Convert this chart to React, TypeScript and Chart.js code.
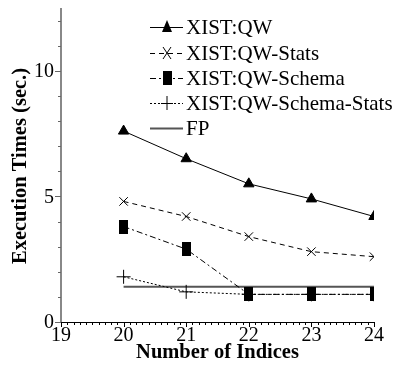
import React, { useEffect, useRef } from "react";
import { Chart, registerables } from "chart.js";
Chart.register(...registerables);

const xValues = [20, 21, 22, 23, 24];
const qw = [7.6, 6.5, 5.5, 4.9, 4.2];
const qwStats = [4.8, 4.2, 3.4, 2.8, 2.6];
const qwSchema = [3.8, 2.9, 1.1, 1.1, 1.1];
const qwSchemaStats = [1.8, 1.2, 1.1, 1.1, 1.1];
const fp = [1.4, 1.4, 1.4, 1.4, 1.4];
const seriesNames = ["XIST:QW", "XIST:QW-Stats", "XIST:QW-Schema", "XIST:QW-Schema-Stats", "FP"];
const xTicks = [19, 20, 21, 22, 23, 24];
const yTicks = [0, 5, 10];

const SERIF = "'Liberation Serif', 'DejaVu Serif', serif";

function makeRectImage(): HTMLCanvasElement {
  const c = document.createElement("canvas");
  c.width = 9;
  c.height = 14;
  const g = c.getContext("2d")!;
  g.fillStyle = "#000";
  g.fillRect(0, 0, 9, 14);
  return c;
}

export default function App() {
  const ref = useRef<HTMLCanvasElement>(null);
  useEffect(() => {
    const rectImg = makeRectImage();
    const styles = [
      { dash: [] as number[], point: "triangle" as any, radius: 6, color: "#000", width: 1 },
      { dash: [5, 4], point: "crossRot" as any, radius: 6, color: "#000", width: 1 },
      { dash: [6, 3, 2, 3], point: rectImg as any, radius: 6, color: "#000", width: 1 },
      { dash: [2, 2], point: "cross" as any, radius: 7, color: "#000", width: 1 },
      { dash: [] as number[], point: false as any, radius: 0, color: "#555", width: 2 },
    ];
    const values = [qw, qwStats, qwSchema, qwSchemaStats, fp];
    const datasets = values.map((arr, i) => ({
      label: seriesNames[i],
      data: arr.map((v, j) => ({ x: xValues[j], y: v })),
      borderColor: styles[i].color,
      backgroundColor: "#000",
      borderWidth: styles[i].width,
      borderDash: styles[i].dash,
      pointStyle: styles[i].point,
      pointRadius: styles[i].radius,
      pointBorderWidth: 1,
      pointBorderColor: "#000",
      pointBackgroundColor: "#000",
      tension: 0,
      fill: false,
    }));

    const decor = {
      id: "decor",
      afterDraw(chart: any) {
        const ctx = chart.ctx;
        const xs = chart.scales.x;
        const ys = chart.scales.y;
        const area = chart.chartArea;
        ctx.save();
        // axes lines
        ctx.strokeStyle = "#888";
        ctx.lineWidth = 2;
        ctx.beginPath();
        ctx.moveTo(area.left, area.top);
        ctx.lineTo(area.left, area.bottom);
        ctx.stroke();
        ctx.strokeStyle = "#000";
        ctx.lineWidth = 1;
        ctx.beginPath();
        ctx.moveTo(area.left, area.bottom + 0.5);
        ctx.lineTo(area.right, area.bottom + 0.5);
        ctx.stroke();
        // x minor ticks
        for (let k = 0; k <= 50; k++) {
          const v = 19 + k * 0.1;
          const px = Math.round(xs.getPixelForValue(v)) + 0.5;
          const len = k % 10 === 0 ? 5 : 3;
          ctx.beginPath();
          ctx.moveTo(px, area.bottom);
          ctx.lineTo(px, area.bottom + len);
          ctx.stroke();
        }
        // y minor ticks
        ctx.strokeStyle = "#666";
        for (let v = 0; v <= 12; v++) {
          const py = Math.round(ys.getPixelForValue(v)) + 0.5;
          const len = v % 5 === 0 ? 6 : 3;
          ctx.beginPath();
          ctx.moveTo(area.left - len, py);
          ctx.lineTo(area.left, py);
          ctx.stroke();
        }
        // tick labels
        ctx.fillStyle = "#000";
        ctx.font = `20px ${SERIF}`;
        ctx.textAlign = "center";
        ctx.textBaseline = "middle";
        xTicks.forEach((t) => ctx.fillText(String(t), xs.getPixelForValue(t), 336));
        ctx.textAlign = "right";
        yTicks.forEach((t) => ctx.fillText(String(t), area.left - 7, ys.getPixelForValue(t) + 1));
        // titles
        ctx.font = `bold 20.5px ${SERIF}`;
        ctx.textAlign = "center";
        ctx.textBaseline = "middle";
        ctx.fillText("Number of Indices", (area.left + area.right) / 2, 353);
        ctx.save();
        ctx.translate(21, 166);
        ctx.rotate(-Math.PI / 2);
        ctx.fillText("Execution Times (sec.)", 0, 0);
        ctx.restore();
        // legend
        const rows = [27, 53, 78, 103, 128];
        ctx.font = `21px ${SERIF}`;
        ctx.textAlign = "left";
        rows.forEach((ry, i) => {
          const st = styles[i];
          ctx.strokeStyle = st.color;
          ctx.lineWidth = st.width;
          ctx.setLineDash(st.dash);
          ctx.beginPath();
          ctx.moveTo(150, ry + 0.5);
          ctx.lineTo(183, ry + 0.5);
          ctx.stroke();
          ctx.setLineDash([]);
          ctx.lineWidth = 1;
          ctx.strokeStyle = "#000";
          ctx.fillStyle = "#000";
          const cx = 167;
          if (i === 0) {
            ctx.beginPath();
            ctx.moveTo(cx, ry - 7);
            ctx.lineTo(cx + 5, ry + 5);
            ctx.lineTo(cx - 5, ry + 5);
            ctx.closePath();
            ctx.fill();
          } else if (i === 1) {
            ctx.beginPath();
            ctx.moveTo(cx - 4, ry - 6);
            ctx.lineTo(cx + 4, ry + 6);
            ctx.moveTo(cx + 4, ry - 6);
            ctx.lineTo(cx - 4, ry + 6);
            ctx.stroke();
          } else if (i === 2) {
            ctx.drawImage(rectImg, cx - 4, ry - 7);
          } else if (i === 3) {
            ctx.beginPath();
            ctx.moveTo(cx, ry - 7);
            ctx.lineTo(cx, ry + 7);
            ctx.moveTo(cx - 6, ry + 0.5);
            ctx.lineTo(cx + 6, ry + 0.5);
            ctx.stroke();
          }
          ctx.fillStyle = "#000";
          ctx.textBaseline = "middle";
          ctx.fillText(seriesNames[i], 186, ry + 1);
        });
        ctx.restore();
      },
    };

    const chart = new Chart(ref.current!, {
      type: "line",
      data: { datasets: datasets as any },
      options: {
        animation: false,
        responsive: false,
        maintainAspectRatio: false,
        layout: { padding: { left: 61, right: 21, top: 8, bottom: 43 } },
        plugins: { legend: { display: false }, tooltip: { enabled: false } },
        scales: {
          x: { type: "linear", min: 19, max: 24, display: false },
          y: { type: "linear", min: 0, max: 12.5, display: false },
        },
      },
      plugins: [decor],
    });
    return () => chart.destroy();
  }, []);
  return (
    <div style={{ position: "fixed", left: 0, top: 0, width: 395, height: 365, background: "#fff" }}>
      <canvas ref={ref} width={395} height={365} style={{ width: 395, height: 365 }} />
    </div>
  );
}
